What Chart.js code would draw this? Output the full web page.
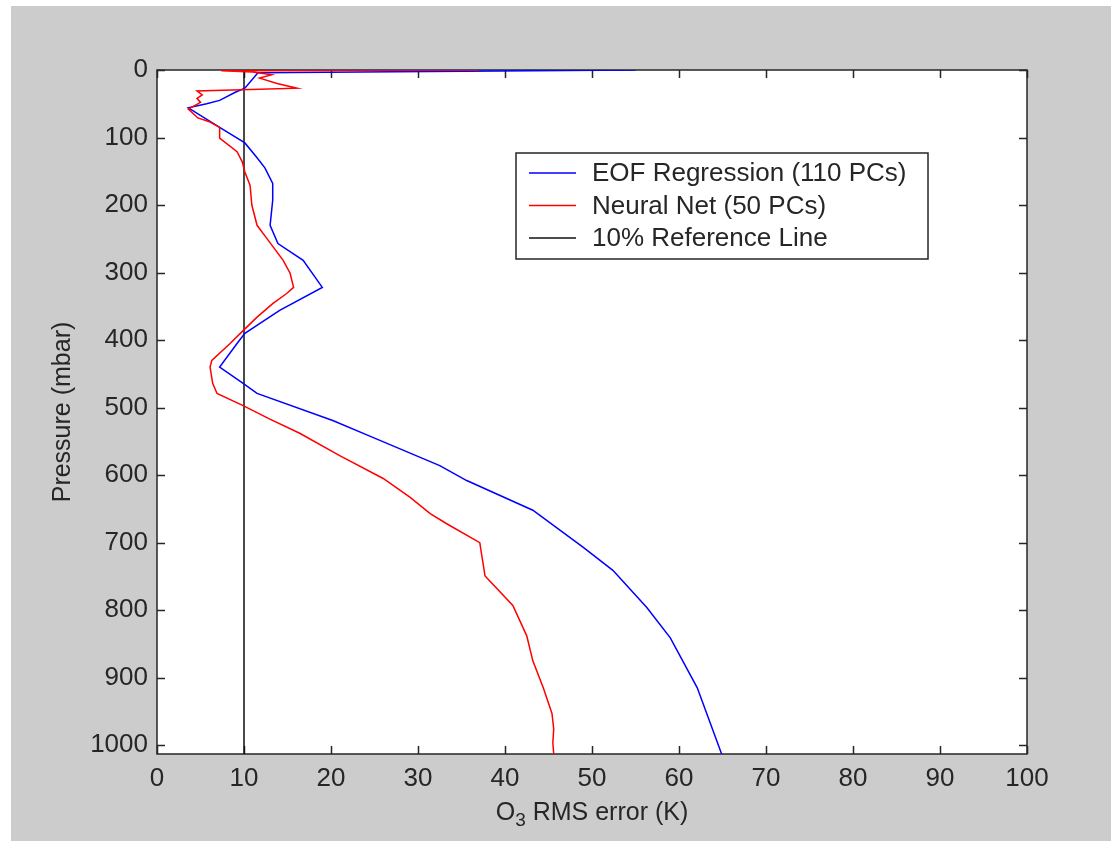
<!DOCTYPE html>
<html>
<head>
<meta charset="utf-8">
<script src="https://cdn.jsdelivr.net/npm/chart.js@4.4.1/dist/chart.umd.min.js"></script>
<style>
  html, body { margin: 0; padding: 0; background: #ffffff; }
  #frame { position: absolute; left: 11px; top: 6px; width: 1100px; height: 835px; background: #cccccc; }
  canvas { display: block; }
</style>
</head>
<body>
<div id="frame"><canvas id="chart" width="1100" height="835"></canvas></div>
<script>
// Ozone retrieval RMS error profiles versus pressure
const seriesLabels = ['EOF Regression (110 PCs)', 'Neural Net (50 PCs)', '10% Reference Line'];

const pressureEof = [0, 4, 27, 33, 45, 50, 56, 85, 108, 130, 145, 168, 193, 230, 257, 282, 322, 356, 390, 405, 440, 464, 479, 519, 544, 586, 608, 652, 707, 741, 796, 841, 915, 1013];
const errorEof    = [55, 11.6, 10.1, 9.0, 7.2, 5.7, 3.6, 7.2, 10.1, 11.5, 12.4, 13.3, 13.3, 13.0, 13.9, 16.8, 19.0, 14.1, 10.1, 9.2, 7.2, 9.9, 11.5, 20.2, 24.8, 32.5, 35.6, 43.2, 49.0, 52.4, 56.3, 59.0, 62.1, 64.9];

const pressureNet = [0, 1, 3, 7, 12, 20, 27, 31, 37, 42, 48, 58, 71, 77, 85, 101, 121, 136, 151, 171, 200, 230, 249, 282, 301, 322, 331, 346, 366, 386, 405, 430, 440, 464, 479, 497, 516, 538, 571, 605, 633, 657, 672, 700, 749, 752, 793, 838, 875, 915, 953, 976, 996, 1013];
const errorNet    = [37, 7.4, 11, 13.2, 11.8, 13.8, 16.1, 4.6, 5.2, 4.6, 5.0, 3.6, 4.7, 6.1, 7.2, 7.2, 9.2, 9.8, 10.1, 10.7, 10.9, 11.5, 12.6, 14.5, 15.3, 15.7, 14.9, 13.3, 11.5, 9.9, 8.4, 6.3, 6.1, 6.4, 6.9, 9.9, 12.8, 16.4, 21.0, 26.0, 29.1, 31.4, 33.3, 37.1, 37.7, 37.9, 40.9, 42.5, 43.2, 44.4, 45.4, 45.6, 45.5, 45.6];

const pressureRef = [0, 1013];
const errorRef    = [10, 10];

const xTicks = [0, 10, 20, 30, 40, 50, 60, 70, 80, 90, 100];
const yTicks = [0, 100, 200, 300, 400, 500, 600, 700, 800, 900, 1000];
const xRange = [0, 100];
const yRange = [0, 1013];

const FONT = '"Liberation Sans", Arial, sans-serif';
const INK = '#262626';

function toPoints(xs, ys) { return xs.map((x, i) => ({ x: x, y: ys[i] })); }

// White plot area, axes box and inward tick marks on all four sides, beneath the curves
const boxPlugin = {
  id: 'box',
  beforeDatasetsDraw(chart) {
    const { ctx, chartArea: a, scales } = chart;
    const len = 8;
    ctx.save();
    ctx.fillStyle = '#ffffff';
    ctx.fillRect(a.left, a.top, a.right - a.left, a.bottom - a.top);
    ctx.strokeStyle = INK;
    ctx.lineWidth = 1.5;
    ctx.strokeRect(a.left, a.top, a.right - a.left, a.bottom - a.top);
    ctx.beginPath();
    xTicks.forEach(v => {
      const px = Math.round(scales.x.getPixelForValue(v)) + 0.5;
      ctx.moveTo(px, a.bottom); ctx.lineTo(px, a.bottom - len);
      ctx.moveTo(px, a.top); ctx.lineTo(px, a.top + len);
    });
    yTicks.forEach(v => {
      const py = Math.round(scales.y.getPixelForValue(v)) + 0.5;
      ctx.moveTo(a.left, py); ctx.lineTo(a.left + len, py);
      ctx.moveTo(a.right, py); ctx.lineTo(a.right - len, py);
    });
    ctx.stroke();
    ctx.restore();
  }
};

// Axis titles (x title carries a subscript) and the boxed legend
const annotatePlugin = {
  id: 'annotate',
  afterDraw(chart) {
    const { ctx, chartArea: a } = chart;
    ctx.save();
    ctx.fillStyle = INK;

    // y title
    ctx.save();
    ctx.translate(a.left - 94, (a.top + a.bottom) / 2);
    ctx.rotate(-Math.PI / 2);
    ctx.font = '25px ' + FONT;
    ctx.textAlign = 'center';
    ctx.textBaseline = 'middle';
    ctx.fillText('Pressure (mbar)', 0, 0);
    ctx.restore();

    // x title: O3 RMS error (K)
    const big = '25px ' + FONT, small = '19px ' + FONT;
    ctx.font = big;  const wO = ctx.measureText('O').width;
    ctx.font = small; const w3 = ctx.measureText('3').width;
    ctx.font = big;  const wRest = ctx.measureText(' RMS error (K)').width;
    let x0 = (a.left + a.right) / 2 - (wO + w3 + wRest) / 2;
    const yT = a.bottom + 59;
    ctx.textAlign = 'left';
    ctx.textBaseline = 'middle';
    ctx.font = big; ctx.fillText('O', x0, yT);
    ctx.font = small; ctx.fillText('3', x0 + wO, yT + 8);
    ctx.font = big; ctx.fillText(' RMS error (K)', x0 + wO + w3, yT);

    // legend
    const lx = 505, ly = 147, lw = 412, lh = 106;
    ctx.fillStyle = '#ffffff';
    ctx.fillRect(lx, ly, lw, lh);
    ctx.strokeStyle = INK;
    ctx.lineWidth = 1.5;
    ctx.strokeRect(lx, ly, lw, lh);
    ctx.font = '26px ' + FONT;
    ctx.textBaseline = 'middle';
    chart.data.datasets.forEach((ds, i) => {
      const yy = ly + 20 + i * 32.5;
      ctx.strokeStyle = ds.borderColor;
      ctx.lineWidth = 1.5;
      ctx.beginPath();
      ctx.moveTo(lx + 13, yy); ctx.lineTo(lx + 60, yy);
      ctx.stroke();
      ctx.fillStyle = INK;
      ctx.fillText(ds.label, lx + 76, yy + 1);
    });
    ctx.restore();
  }
};

new Chart(document.getElementById('chart'), {
  type: 'scatter',
  data: {
    datasets: [
      { label: seriesLabels[0], data: toPoints(errorEof, pressureEof), borderColor: '#0000ff', order: 2 },
      { label: seriesLabels[1], data: toPoints(errorNet, pressureNet), borderColor: '#ff0000', order: 1 },
      { label: seriesLabels[2], data: toPoints(errorRef, pressureRef), borderColor: '#111111', order: 3 }
    ]
  },
  options: {
    responsive: false,
    animation: false,
    showLine: true,
    layout: { padding: { left: 0, top: 64, right: 84, bottom: 0 } },
    elements: {
      point: { radius: 0, hoverRadius: 0 },
      line: { borderWidth: 1.5, tension: 0, fill: false }
    },
    plugins: { legend: { display: false }, tooltip: { enabled: false } },
    scales: {
      x: {
        type: 'linear', min: xRange[0], max: xRange[1],
        afterBuildTicks: s => { s.ticks = xTicks.map(v => ({ value: v })); },
        afterFit: s => { s.height = 87; },
        grid: { display: false, drawTicks: false },
        border: { display: false },
        ticks: { color: INK, font: { family: FONT, size: 26 }, padding: 9, maxRotation: 0, autoSkip: false,
                 callback: v => String(v) }
      },
      y: {
        type: 'linear', reverse: true, min: yRange[0], max: yRange[1],
        afterBuildTicks: s => { s.ticks = yTicks.map(v => ({ value: v })); },
        afterFit: s => { s.width = 146; },
        grid: { display: false, drawTicks: false },
        border: { display: false },
        ticks: { color: INK, font: { family: FONT, size: 26 }, padding: 9, autoSkip: false,
                 callback: v => String(v) }
      }
    }
  },
  plugins: [boxPlugin, annotatePlugin]
});
</script>
</body>
</html>
